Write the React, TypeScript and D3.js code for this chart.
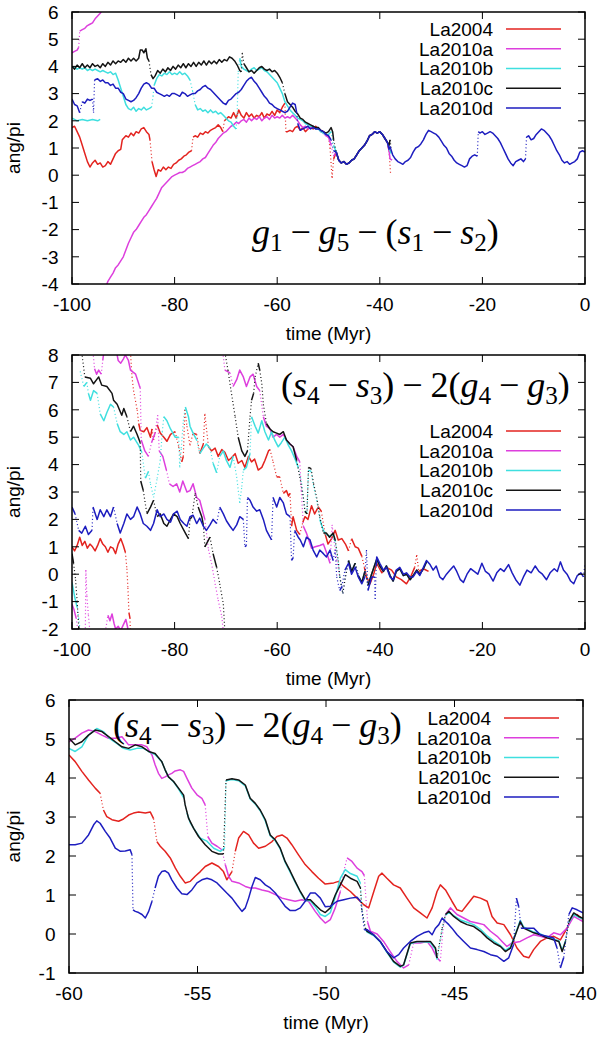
import * as d3 from "d3";

type Pt = [number, number | null];

const SERIES = ["La2004", "La2010a", "La2010b", "La2010c", "La2010d"];
const COLORS = ["#e3231f", "#dd3fdd", "#3fdfdf", "#141414", "#1d1dbf"];

// panel 1 : g1 - g5 - (s1 - s2), -100..0 Myr
const p1Mid: Pt[] = [[-48.5,0.85],[-48,0.55],[-47.5,0.45],[-47,0.5],[-46.5,0.4],[-46,0.45],[-45.5,0.55],[-45,0.6],[-44.5,0.75],[-44,0.9],[-43.5,1.0],[-43,1.1],[-42.5,1.25],[-42,1.45],[-41.5,1.5],[-41,1.6],[-40.5,1.55],[-40,1.6],[-39.5,1.5],[-39,1.35],[-38.5,1.2]];
const p1Recent: Pt[] = [[-38.2,0.95],[-38,1.05],[-37.5,0.75],[-37,0.6],[-36.5,0.5],[-36,0.45],[-35.5,0.4],[-35,0.5],[-34.5,0.55],[-34,0.65],[-33.5,0.85],[-33,1.0],[-32.5,1.05],[-32,1.15],[-31.5,1.3],[-31,1.5],[-30.5,1.65],[-30,1.6],[-29.5,1.55],[-29,1.5],[-28.5,1.4],[-28,1.25],[-27.5,1.1],[-27,1.0],[-26.5,0.8],[-26,0.7],[-25.5,0.55],[-25,0.45],[-24.5,0.4],[-24,0.35],[-23.5,0.3],[-23,0.35],[-22.5,0.6],[-22,0.7],[-21.5,0.75],[-21,0.7],[-20.8,1.6],[-20.5,1.55],[-20,1.6],[-19.5,1.5],[-19,1.55],[-18.5,1.6],[-18,1.55],[-17.5,1.45],[-17,1.35],[-16.5,1.2],[-16,1.0],[-15.5,0.8],[-15,0.6],[-14.5,0.45],[-14,0.35],[-13.5,0.5],[-13,0.55],[-12.5,0.6],[-12,0.5],[-11.6,0.6],[-11.4,1.4],[-11,1.45],[-10.5,1.3],[-10,1.35],[-9.5,1.5],[-9,1.6],[-8.5,1.7],[-8,1.65],[-7.5,1.55],[-7,1.45],[-6.5,1.3],[-6,1.1],[-5.5,0.9],[-5,0.75],[-4.5,0.55],[-4,0.45],[-3.5,0.5],[-3,0.4],[-2.5,0.45],[-2,0.5],[-1.5,0.6],[-1,0.85],[-0.5,0.9],[0,0.85]];
const p1La2004: Pt[] = [[-100,1.75],[-99.5,1.8],[-99,1.6],[-98.5,1.4],[-98,1.1],[-97.5,0.8],[-97,0.5],[-96.5,0.3],[-96,0.45],[-95.5,0.55],[-95,0.4],[-94.5,0.45],[-94,0.3],[-93.5,0.35],[-93,0.5],[-92.5,0.4],[-92,0.6],[-91.5,0.8],[-91,0.9],[-90.5,0.95],[-90.2,1.3],[-89.5,1.45],[-89,1.4],[-88.5,1.55],[-88,1.45],[-87.5,1.6],[-87,1.55],[-86.5,1.7],[-86,1.75],[-85.5,1.6],[-85,1.5],[-84.8,1.3],[-84.4,0.5],[-84,0.2],[-83.6,-0.05],[-83.2,0.2],[-82.7,0.15],[-82.2,0.3],[-81.7,0.2],[-81.2,0.3],[-80.7,0.25],[-80.2,0.4],[-79.7,0.45],[-79.2,0.55],[-78.7,0.6],[-78.2,0.7],[-77.7,0.75],[-77.2,0.85],[-76.7,0.9],[-76.4,1.4],[-76,1.45],[-75.5,1.4],[-75,1.55],[-74.5,1.5],[-74,1.6],[-73.5,1.55],[-73,1.65],[-72.5,1.7],[-72,1.75],[-71.5,1.85],[-71,1.75],[-70.6,1.6],[-70.3,2.0],[-70,2.05],[-69.5,2.15],[-69,2.1],[-68.5,2.3],[-68,2.1],[-67.5,2.4],[-67,2.2],[-66.5,2.1],[-66,2.3],[-65.5,2.15],[-65,2.25],[-64.5,2.1],[-64,2.2],[-63.5,2.15],[-63,2.3],[-62.5,2.1],[-62,2.25],[-61.5,2.2],[-61,2.35],[-60.5,2.2],[-60,2.4],[-59.5,2.3],[-59,2.5],[-58.5,2.65],[-58.3,1.6],[-58,1.6],[-57.5,1.65],[-57,1.6],[-56.5,1.75],[-56,1.8],[-55.5,1.65],[-55,1.75],[-54.5,1.6],[-54,1.7],[-53.5,1.75],[-53,1.7],[-52.5,1.8],[-52,1.7],[-51.5,1.65],[-51,1.6],[-50.5,1.5],[-50,1.4],[-49.7,1.0],[-49.3,-0.1],[-49,0.6],...p1Mid,[-38.2,0.9],[-37.9,0.05]];
const p1La2010a: Pt[] = [[-100,4.5],[-99.5,4.55],[-99,4.6],[-98.7,4.7],[-98.5,5.3],[-98,5.35],[-97.5,5.4],[-97,5.5],[-96.5,5.55],[-96,5.6],[-95.5,5.75],[-95,5.85],[-94.5,5.95],[-94,6.1],[-93.7,6.3],[-93.7,null],[-93.6,-4.2],[-93,-3.9],[-92.5,-3.75],[-92,-3.6],[-91.5,-3.4],[-91,-3.3],[-90.5,-3.15],[-90,-3.0],[-89.5,-2.75],[-89,-2.5],[-88.5,-2.3],[-88,-2.1],[-87.5,-2.0],[-87,-1.85],[-86.5,-1.7],[-86,-1.55],[-85.5,-1.45],[-85,-1.3],[-84.5,-1.15],[-84,-1.0],[-83.5,-0.85],[-83,-0.65],[-82.5,-0.45],[-82,-0.35],[-81.5,-0.25],[-81,-0.15],[-80.5,-0.05],[-80,0.0],[-79.5,0.05],[-79,0.1],[-78.5,0.1],[-78,0.15],[-77.5,0.25],[-77,0.3],[-76.5,0.35],[-76,0.4],[-75.5,0.45],[-75,0.5],[-74.5,0.6],[-74,0.65],[-73.5,0.8],[-73,0.95],[-72.5,1.1],[-72,1.2],[-71.5,1.35],[-71,1.45],[-70.5,1.55],[-70,1.6],[-69.5,1.7],[-69,1.8],[-68.5,1.85],[-68,1.95],[-67.5,1.9],[-67,2.0],[-66.5,2.05],[-66,1.95],[-65.5,2.1],[-65,2.0],[-64.5,2.1],[-64,2.05],[-63.5,2.15],[-63,2.0],[-62.5,2.1],[-62,2.15],[-61.5,2.05],[-61,2.2],[-60.5,2.1],[-60,2.15],[-59.5,2.1],[-59,2.2],[-58.5,2.1],[-58,2.15],[-57.5,2.1],[-57,2.2],[-56.5,2.1],[-56,2.0],[-55.5,1.85],[-55,1.75],[-54.5,1.8],[-54,1.7],[-53.5,1.75],[-53,1.8],[-52.5,1.7],[-52,1.75],[-51.5,1.6],[-51,1.55],[-50.5,1.45],[-50,1.4],[-49.5,1.1],[-49,0.7],...p1Mid,[-38.2,0.9],[-38,0.6],[-37.6,0.55]];
const p1La2010b: Pt[] = [[-100,2.1],[-99.5,2.05],[-99,2.0],[-98,2.05],[-97,2.0],[-96,2.05],[-95,2.0],[-94.5,2.05],[-94.5,null],[-100,4.0],[-99.5,3.95],[-99,3.9],[-98.5,3.95],[-98,3.9],[-97.5,3.95],[-97,3.85],[-96.5,3.9],[-96,3.85],[-95.5,3.9],[-95,3.85],[-94.5,3.8],[-94,3.85],[-93.5,3.8],[-93,3.75],[-92.5,3.8],[-92,3.7],[-91.5,3.75],[-91,3.5],[-90.5,3.2],[-90,2.9],[-89.5,2.6],[-89,2.45],[-88.5,2.4],[-88,2.5],[-87.5,2.35],[-87,2.45],[-86.5,2.4],[-86,2.5],[-85.5,2.4],[-85,2.45],[-84.5,2.5],[-84.2,2.9],[-84,3.3],[-83.5,3.55],[-83,3.7],[-82.5,3.65],[-82,3.75],[-81.5,3.7],[-81,3.8],[-80.5,3.7],[-80,3.75],[-79.5,3.7],[-79,3.8],[-78.5,3.7],[-78,3.75],[-77.5,3.65],[-77,3.5],[-76.5,3.1],[-76,2.6],[-75.5,2.4],[-75,2.45],[-74.5,2.35],[-74,2.4],[-73.5,2.3],[-73,2.4],[-72.5,2.3],[-72,2.35],[-71.5,2.25],[-71,2.3],[-70.5,2.2],[-70,2.1],[-69.5,2.0],[-69,1.95],[-68.5,1.8],[-68,1.7],[-67.8,2.3],[-67.6,3.8],[-67.3,4.3],[-67,4.0],[-66.5,3.9],[-66,3.85],[-65.5,3.8],[-65,3.9],[-64.5,3.95],[-64,3.85],[-63.5,3.9],[-63,3.95],[-62.5,3.85],[-62,3.8],[-61.5,3.7],[-61,3.6],[-60.5,3.5],[-60,3.4],[-59.5,3.2],[-59,3.0],[-58.5,2.7],[-58,2.55],[-57.5,2.4],[-57,2.3],[-56.5,2.2],[-56,2.1],[-55.5,2.05],[-55,2.0],[-54.5,1.9],[-54,1.85],[-53.5,1.8],[-53,1.8],[-52.5,1.7],[-52,1.7],[-51.5,1.6],[-51,1.55],[-50.5,1.5],[-50,1.5],[-49.5,1.6],[-49,1.1],...p1Mid,[-38.2,1.0],[-37.8,0.8]];
const p1La2010c: Pt[] = [[-100,4.0],[-99.5,3.9],[-99,4.05],[-98.5,3.95],[-98,4.1],[-97.5,3.95],[-97,4.05],[-96.5,3.95],[-96,4.1],[-95.5,4.0],[-95,4.05],[-94.5,3.95],[-94,4.1],[-93.5,4.0],[-93,4.15],[-92.5,4.05],[-92,4.2],[-91.5,4.1],[-91,4.2],[-90.5,4.15],[-90,4.25],[-89.5,4.15],[-89,4.3],[-88.5,4.2],[-88,4.3],[-87.5,4.2],[-87,4.3],[-86.7,4.6],[-86.3,4.6],[-86,4.5],[-85.6,4.65],[-85.3,4.3],[-85,4.2],[-84.6,3.7],[-84.2,3.55],[-83.8,3.65],[-83.3,3.85],[-82.8,3.75],[-82.3,3.9],[-81.8,3.8],[-81.3,3.95],[-80.8,3.85],[-80.3,4.0],[-79.8,3.9],[-79.3,4.05],[-78.8,3.95],[-78.3,4.1],[-77.8,3.95],[-77.3,4.1],[-76.8,4.0],[-76.3,4.15],[-75.8,4.0],[-75.3,4.15],[-74.8,4.05],[-74.3,4.2],[-73.8,4.05],[-73.3,4.2],[-72.8,4.1],[-72.3,4.2],[-71.8,4.1],[-71.3,4.25],[-70.8,4.15],[-70.3,4.25],[-69.8,4.2],[-69.3,4.35],[-68.8,4.3],[-68.3,4.2],[-67.8,4.05],[-67.3,3.85],[-67,3.8],[-66.8,4.5],[-66.5,4.1],[-66,3.95],[-65.5,3.8],[-65,3.85],[-64.5,3.75],[-64,3.85],[-63.5,3.95],[-63,4.0],[-62.5,3.9],[-62,3.85],[-61.5,3.9],[-61,3.8],[-60.5,3.85],[-60,3.75],[-59.5,3.6],[-59,3.4],[-58.5,3.0],[-58,2.7],[-57.5,2.6],[-57,2.5],[-56.5,2.35],[-56,2.25],[-55.5,2.1],[-55,2.05],[-54.5,1.95],[-54,1.9],[-53.5,1.85],[-53,1.8],[-52.5,1.75],[-52,1.75],[-51.5,1.65],[-51,1.6],[-50.5,1.55],[-50,1.6],[-49.5,1.75],[-49.2,1.6],[-49,1.3],...p1Mid,[-38.2,1.1],[-38,1.3],[-37.7,0.8]];
const p1La2010d: Pt[] = [[-100,2.8],[-99.5,2.6],[-99,2.55],[-98.5,2.3],[-98,2.7],[-97.5,2.65],[-97,2.8],[-96.5,2.75],[-96,2.8],[-95.8,2.3],[-95.6,3.5],[-95,3.55],[-94.5,3.45],[-94,3.5],[-93.5,3.4],[-93,3.4],[-92.5,3.3],[-92,3.35],[-91.5,3.2],[-91,3.2],[-90.5,3.05],[-90,3.0],[-89.5,2.8],[-89,2.75],[-88.5,2.7],[-88,2.75],[-87.5,2.85],[-87,3.0],[-86.5,3.2],[-86,3.35],[-85.5,3.4],[-85,3.35],[-84.5,3.2],[-84,3.2],[-83.5,3.05],[-83,3.0],[-82.5,2.95],[-82,2.9],[-81.5,2.95],[-81,2.9],[-80.5,3.0],[-80,3.0],[-79.5,2.95],[-79,2.9],[-78.5,3.05],[-78,3.0],[-77.5,2.9],[-77,2.95],[-76.5,3.0],[-76,3.0],[-75.5,3.1],[-75,3.15],[-74.5,3.25],[-74,3.3],[-73.5,3.2],[-73,3.15],[-72.5,3.05],[-72,2.95],[-71.5,2.85],[-71,2.75],[-70.5,2.65],[-70,2.6],[-69.5,2.75],[-69,2.8],[-68.5,2.9],[-68,3.0],[-67.5,3.05],[-67,3.15],[-66.5,3.3],[-66,3.45],[-65.5,3.55],[-65,3.6],[-64.5,3.45],[-64,3.35],[-63.5,3.2],[-63,3.05],[-62.5,2.9],[-62,2.8],[-61.5,2.65],[-61,2.6],[-60.5,2.5],[-60,2.45],[-59.5,2.4],[-59,2.35],[-58.5,2.3],[-58,2.35],[-57.5,2.5],[-57,2.65],[-56.5,2.6],[-56.2,2.3],[-56,1.9],[-55.5,1.65],[-55,1.7],[-54.5,1.75],[-54,1.8],[-53.5,1.7],[-53,1.75],[-52.5,1.7],[-52,1.7],[-51.5,1.65],[-51,1.6],[-50.5,1.5],[-50,1.45],[-49.5,1.3],[-49,0.9],...p1Mid,...p1Recent];

// panel 2 : (s4 - s3) - 2(g4 - g3), -100..0 Myr
const p2Mix: Pt[] = [[-47.8,-0.1],[-47.2,-0.7],[-46.8,-0.2],[-46.1,0.5],[-45.5,0.1],[-44.8,0.4],[-44.2,-0.05],[-43.5,-0.3],[-42.9,0.1],[-42.3,-0.4],[-41.6,0.0],[-40.6,0.55],[-40,0.3],[-39.3,0.1],[-38.7,0.3],[-38,-0.05],[-37.4,-0.25],[-36.8,0.1],[-36.1,0.2],[-35.4,-0.05],[-34.8,0.0],[-34.1,-0.2],[-33.5,-0.05],[-32.8,0.15],[-32.2,0.0],[-31.5,0.2],[-30.9,0.45]];
const p2La2004: Pt[] = [[-100,1.0],[-99.5,0.85],[-99,1.05],[-98.5,1.35],[-98,1.05],[-97.5,1.2],[-97,0.95],[-96.5,1.1],[-96,1.0],[-95.5,0.85],[-95,1.05],[-94.5,1.3],[-94,1.1],[-93.5,1.0],[-93,0.8],[-92.5,1.0],[-92,0.95],[-91.5,0.75],[-91,1.1],[-90.5,1.3],[-90,1.05],[-89.6,0.8],[-89.3,0.2],[-89.1,-0.5],[-88.9,-1.4],[-88.7,-1.6],[-88.6,-2.2],[-88.6,null],[-88.6,8.1],[-88.3,7.2],[-88,6.7],[-87.3,6.0],[-87,5.5],[-86.7,5.25],[-86,5.2],[-85.4,5.35],[-84.7,5.0],[-84.4,5.3],[-84.1,4.9],[-83.4,5.45],[-82.8,5.15],[-82.1,5.0],[-81.5,4.85],[-80.8,5.1],[-79.9,5.2],[-79.2,4.65],[-78.6,4.1],[-78.3,4.3],[-78,6.0],[-77.6,5.4],[-77,4.7],[-76.4,5.15],[-75.7,5.1],[-75.1,4.4],[-74.4,4.75],[-74.1,5.85],[-73.4,4.65],[-72.8,4.5],[-72.1,4.6],[-71.5,4.3],[-70.8,4.55],[-70.2,4.45],[-69.5,4.15],[-68.9,4.25],[-68.2,4.4],[-67.6,4.05],[-66.9,4.15],[-66.3,3.9],[-65.6,4.3],[-65,4.1],[-64.4,4.2],[-63.7,3.8],[-63,3.9],[-62.4,4.15],[-61.7,4.5],[-61.4,4.55],[-60.8,4.1],[-60.1,3.55],[-59.5,3.55],[-58.8,2.95],[-58.2,3.05],[-57.8,2.85],[-57.5,2.95],[-57.2,1.75],[-56.9,2.1],[-56.2,1.6],[-55.6,1.45],[-55,1.9],[-54.6,2.1],[-54,2.0],[-53.3,2.5],[-52.7,2.2],[-52,2.45],[-51.4,2.3],[-50.7,1.5],[-50.1,1.1],[-49.4,1.3],[-48.7,1.6],[-48.1,1.25],[-47.4,1.3],[-46.7,1.1],[-46.1,0.85],[-45.5,1.3],[-44.8,1.0],[-44.2,0.95],[-43.5,0.65],[-43,0.25],[-42.6,-0.1],[-41.9,-0.35],[-41.2,0.0],[-40.6,0.4],[-39.6,0.05],[-38.7,0.25],[-37.7,0.15],[-36.8,-0.1],[-35.8,-0.2],[-34.8,-0.35],[-34,-0.1],[-33.2,0.25],[-32.8,0.7],[-32.4,0.1],[-31.5,0.2],[-30.5,0.1]];
const p2La2010a: Pt[] = [[-100,-1.1],[-99.6,-1.3],[-99.2,-1.6],[-98.8,-2.1],[-98.8,null],[-97.4,-2.1],[-97.3,0.15],[-97.1,-0.8],[-96.8,-1.5],[-96.5,-2.1],[-96.5,null],[-93.5,-2.1],[-93,-1.5],[-92.6,-1.7],[-92.2,-1.45],[-91.8,-1.8],[-91.5,-2.0],[-91,-1.9],[-90.5,-2.05],[-90,-1.85],[-89.5,-1.65],[-89.2,-1.9],[-89,-2.1],[-89,null],[-95.9,8.1],[-95.6,7.5],[-95.2,7.3],[-94.8,7.45],[-94.3,7.3],[-94,7.8],[-93.8,8.1],[-93.8,null],[-91.3,8.1],[-91,7.8],[-90.5,7.7],[-90,7.85],[-89.6,8.0],[-89,7.8],[-88.6,7.45],[-87.6,7.3],[-86.9,6.9],[-86.7,6.8],[-86.5,4.9],[-85.8,4.5],[-85.1,4.3],[-84.5,4.8],[-83.8,5.15],[-83.3,5.8],[-83,4.5],[-82.3,4.3],[-81.6,3.8],[-81,3.3],[-80.3,3.2],[-79.6,3.3],[-79,3.0],[-78.4,3.4],[-77.6,3.0],[-77,3.05],[-76.4,3.3],[-75.7,2.8],[-75.1,2.7],[-74.4,2.2],[-74.1,2.0],[-73.4,0.9],[-72.8,0.4],[-72.1,-0.35],[-71.5,-0.95],[-70.8,-1.55],[-70.5,-2.1],[-70.5,null],[-70.6,8.1],[-70.2,7.45],[-69.2,7.35],[-68.6,6.85],[-67.9,7.1],[-67.3,7.45],[-66.6,7.2],[-66,6.85],[-65.3,7.2],[-64.7,7.3],[-64,6.85],[-63.4,6.7],[-62.7,5.75],[-62.1,5.4],[-61.4,5.3],[-60.8,5.0],[-60.1,5.1],[-59.5,5.0],[-58.8,5.1],[-58.2,4.9],[-57.5,4.75],[-56.9,4.65],[-56.2,4.3],[-55.6,4.1],[-55.3,3.05],[-54.9,1.75],[-54.3,1.5],[-53.3,0.95],[-52.6,1.0],[-51.7,1.05],[-51,1.1],[-50.3,0.75],[-49.7,0.4],[-49.3,1.8],[-49,1.3],[-48.4,0.5],...p2Mix];
const p2La2010b: Pt[] = [[-100,-0.3],[-99.7,-0.6],[-99.4,-0.9],[-99,-1.2],[-98.7,-1.6],[-98.4,-2.1],[-98.4,null],[-98.4,7.4],[-97.7,6.85],[-97.1,7.0],[-96.8,6.6],[-96.4,6.35],[-95.8,6.7],[-95.1,6.6],[-94.5,5.85],[-93.8,5.6],[-93.2,5.9],[-92.5,6.2],[-91.9,6.1],[-91.2,5.5],[-90.6,5.2],[-89.9,5.1],[-89.3,5.2],[-88.6,4.9],[-88,5.0],[-87,4.7],[-86.4,4.45],[-85.7,3.5],[-85.1,3.75],[-84.7,3.3],[-84.1,2.8],[-83.4,3.5],[-82.8,4.15],[-82.4,5.2],[-82.1,5.75],[-81.5,5.6],[-80.8,5.3],[-79.9,5.0],[-79.2,5.0],[-79,3.9],[-78.7,4.6],[-78.3,5.6],[-77.9,6.1],[-77.3,5.75],[-77,5.4],[-76.4,5.15],[-75.7,4.9],[-75.1,4.4],[-74.4,4.6],[-73.8,4.75],[-73.1,4.6],[-72.5,4.05],[-71.8,3.7],[-71.2,4.3],[-70.5,4.5],[-69.9,4.15],[-69.2,3.9],[-68.6,4.3],[-67.9,3.55],[-67.3,2.6],[-66.9,3.2],[-66.6,3.8],[-66,3.9],[-65.3,4.4],[-65,5.75],[-64.3,5.4],[-63.7,5.15],[-63,5.6],[-62.4,5.2],[-61.7,4.9],[-61.1,5.2],[-60.5,4.9],[-59.8,4.65],[-59.2,4.8],[-58.5,5.0],[-57.8,4.7],[-57.2,4.5],[-56.5,4.2],[-55.9,3.9],[-55.2,3.3],[-54.9,2.8],[-54.6,2.3],[-54.2,2.25],[-53.9,3.8],[-53.4,3.75],[-52.9,3.2],[-52.3,2.7],[-51.7,2.0],[-51,1.6],[-50.4,1.45],[-49.8,1.4],[-49.1,1.45],[-48.7,1.2],[-48.1,0.45],...p2Mix];
const p2La2010c: Pt[] = [[-100,0.75],[-99.7,0.4],[-99.3,-0.2],[-99,-1.0],[-98.7,-1.9],[-98.6,-2.1],[-98.6,null],[-98.1,8.1],[-97.5,7.2],[-96.4,7.15],[-95.8,6.95],[-94.8,7.2],[-94.2,6.9],[-93.2,6.85],[-92.2,6.6],[-91.9,6.35],[-91.2,6.2],[-90.3,5.8],[-89.9,6.05],[-89.3,5.75],[-88.6,5.2],[-88,5.4],[-87.3,5.1],[-86.7,4.8],[-86.6,3.4],[-86.1,3.05],[-85.4,2.2],[-84.7,2.45],[-84.1,2.7],[-83.4,2.1],[-82.8,2.2],[-82.1,1.85],[-81.5,1.75],[-80.8,2.0],[-80.2,2.2],[-79.5,2.1],[-78.9,1.85],[-77.9,1.5],[-77.3,1.3],[-77,2.0],[-76.6,2.1],[-76,2.95],[-75.4,2.45],[-74.7,2.1],[-74.4,1.8],[-74.1,1.0],[-73.1,1.35],[-72.5,0.75],[-71.8,0.25],[-71.2,-0.35],[-70.5,-1.1],[-70.2,-2.1],[-70.2,null],[-70.2,8.1],[-69.6,7.45],[-69,6.7],[-68.2,5.75],[-67.6,5.0],[-66.9,4.5],[-66.3,4.3],[-65.8,4.5],[-65.3,5.75],[-65,6.35],[-64.6,6.6],[-64.3,7.2],[-63.7,7.7],[-63.4,7.45],[-63,6.95],[-62.7,6.2],[-62.1,5.5],[-61.4,5.3],[-60.8,5.2],[-60.1,5.15],[-59.5,5.1],[-58.8,5.2],[-58.2,4.9],[-57.5,4.75],[-56.9,4.65],[-56.2,4.15],[-55.6,3.55],[-54.9,2.8],[-54.6,2.3],[-54.2,2.2],[-53.9,3.9],[-53.4,3.85],[-52.9,3.3],[-52.3,2.8],[-51.7,2.1],[-51,1.5],[-50.4,1.5],[-49.8,1.35],[-49.1,1.5],[-48.7,1.25],[-48.1,0.5],...p2Mix];
const p2La2010d: Pt[] = [[-100,2.45],[-99.4,2.2],[-98.7,1.6],[-98.1,1.5],[-97.4,1.75],[-96.8,1.45],[-96.1,1.6],[-95.9,2.45],[-95.1,2.0],[-94.5,2.35],[-93.8,2.1],[-93.2,2.35],[-92.5,2.1],[-91.9,2.45],[-91.2,1.85],[-90.6,1.5],[-89.9,1.85],[-89.3,2.2],[-88.6,2.0],[-88,2.1],[-87.3,2.45],[-86.7,2.2],[-86.1,1.85],[-85.4,1.75],[-84.7,1.6],[-84.1,1.85],[-83.4,2.35],[-82.8,2.1],[-82.1,2.2],[-81.5,2.0],[-80.8,1.9],[-80.2,2.2],[-79.5,2.3],[-78.9,2.0],[-78.2,1.85],[-77.6,1.75],[-77,2.1],[-76.4,2.15],[-75.7,1.85],[-75.1,2.05],[-74.4,1.75],[-73.8,1.6],[-73.1,1.8],[-72.5,2.0],[-71.8,1.85],[-71.2,2.45],[-70.5,2.2],[-69.9,1.95],[-69.2,1.75],[-68.6,1.6],[-67.9,1.8],[-67.3,2.1],[-66.6,2.0],[-66.3,1.0],[-66,1.05],[-65.8,2.8],[-65.3,2.7],[-64.7,2.45],[-64,2.3],[-63.4,2.35],[-62.7,2.0],[-62.1,1.6],[-61.4,1.35],[-61.1,1.25],[-60.8,2.8],[-60.1,2.45],[-59.5,2.8],[-58.8,2.6],[-58.2,2.2],[-57.5,2.1],[-57.2,0.5],[-56.9,0.6],[-56.6,1.6],[-55.9,1.35],[-55.5,1.25],[-54.9,1.0],[-54.3,1.35],[-53.6,1.25],[-53,0.88],[-52.3,0.63],[-51.7,0.88],[-51,0.75],[-50.4,0.63],[-49.7,0.88],[-49.1,0.5],[-48.7,0.88],[-48.4,-0.1],[-47.8,-0.6],[-47.4,-0.45],[-46.8,0.15],[-46.1,0.4],[-45.5,0.0],[-44.8,0.25],[-44.2,-0.1],[-43.5,-0.35],[-42.9,-0.1],[-42.6,0.88],[-42.3,-0.6],[-41.6,-0.1],[-41,-0.1],[-40.9,-0.9],[-40.7,0.3],[-40.6,0.63],[-40,0.4],[-39.3,0.15],[-38.7,0.25],[-38,-0.1],[-37.4,-0.2],[-36.8,0.15],[-36.1,0.25],[-35.4,0.0],[-34.8,0.05],[-34.1,-0.1],[-33.5,-0.1],[-32.8,0.1],[-32.2,-0.05],[-31.5,0.25],[-30.9,0.5],[-30.2,0.35],[-29.6,0.15],[-29,0.3],[-28.3,-0.1],[-27.7,-0.2],[-27,0.0],[-26.3,0.15],[-25.6,0.3],[-25,0.1],[-24.3,-0.2],[-23.7,-0.3],[-23,0.0],[-22.3,0.2],[-21.6,0.1],[-20.9,0.0],[-20.1,0.4],[-19.4,0.1],[-18.7,0.0],[-17.9,-0.25],[-17.2,0.05],[-16.5,0.2],[-15.8,0.1],[-14.9,0.35],[-14.2,0.05],[-13.5,-0.2],[-12.7,-0.4],[-12,-0.1],[-11.3,0.15],[-10.5,0.05],[-9.7,0.3],[-9,0.1],[-8.3,0.0],[-7.5,-0.2],[-6.8,0.05],[-6,0.2],[-5.4,0.1],[-4.8,0.45],[-4.2,0.15],[-3.5,0.0],[-2.8,-0.25],[-2.2,-0.35],[-1.5,-0.05],[-0.8,0.05],[-0.3,-0.1],[0,0.4]];

// panel 3 : same angle, -60..-40 Myr
const p3La2004: Pt[] = [[-60,4.59],[-59.76,4.42],[-59.5,4.17],[-59.24,3.95],[-58.98,3.74],[-58.79,3.61],[-58.66,3.18],[-58.53,3.01],[-58.33,2.93],[-58.07,2.89],[-57.88,2.95],[-57.68,3.05],[-57.49,3.1],[-57.29,3.13],[-57.03,3.1],[-56.84,3.13],[-56.71,2.96],[-56.58,2.37],[-56.45,2.25],[-56.26,2.12],[-56.06,1.95],[-55.86,1.69],[-55.67,1.48],[-55.48,1.31],[-55.28,1.35],[-55.09,1.48],[-54.89,1.6],[-54.7,1.73],[-54.44,1.82],[-54.18,1.73],[-53.99,1.6],[-53.86,1.39],[-53.66,1.6],[-53.53,2.12],[-53.4,2.46],[-53.21,2.63],[-53.01,2.54],[-52.82,2.33],[-52.62,2.2],[-52.36,2.25],[-52.1,2.37],[-51.91,2.5],[-51.71,2.54],[-51.52,2.46],[-51.33,2.29],[-51.07,2.03],[-50.81,1.78],[-50.55,1.6],[-50.29,1.43],[-50.03,1.28],[-49.7,1.31],[-49.51,1.35],[-49.31,1.22],[-49.05,1.09],[-48.79,0.92],[-48.53,0.75],[-48.34,0.67],[-48.14,1.09],[-47.95,1.48],[-47.82,1.56],[-47.63,1.43],[-47.37,1.26],[-47.11,1.18],[-46.85,0.92],[-46.59,0.67],[-46.33,0.54],[-46.07,0.41],[-45.87,0.67],[-45.68,1.09],[-45.55,1.26],[-45.35,1.13],[-45.1,0.84],[-44.9,0.62],[-44.71,0.58],[-44.51,0.75],[-44.25,0.97],[-43.99,0.92],[-43.73,0.84],[-43.54,0.45],[-43.34,0.28],[-43.08,0.24],[-42.82,-0.02],[-42.57,-0.36],[-42.31,-0.57],[-42.11,-0.61],[-41.92,-0.4],[-41.66,-0.19],[-41.4,-0.1],[-41.14,-0.06],[-40.88,-0.15],[-40.62,0.15],[-40.42,0.45],[-40.23,0.5],[-40,0.37]];
const p3La2010a: Pt[] = [[-60,4.93],[-59.76,5.02],[-59.5,5.15],[-59.24,5.23],[-58.98,5.19],[-58.72,5.1],[-58.46,5.02],[-58.2,5.02],[-57.94,5.06],[-57.68,4.85],[-57.42,4.85],[-57.16,4.85],[-56.97,4.8],[-56.77,4.59],[-56.65,4.34],[-56.52,4.12],[-56.39,3.99],[-56.26,4.03],[-56.13,4.08],[-56,4.12],[-55.87,4.18],[-55.67,4.21],[-55.54,4.17],[-55.41,3.99],[-55.22,3.74],[-55.02,3.57],[-54.83,3.48],[-54.7,3.31],[-54.6,2.5],[-54.44,2.33],[-54.24,2.25],[-54.05,2.16],[-53.92,1.78],[-53.79,1.48],[-53.66,1.35],[-53.4,1.31],[-53.14,1.22],[-52.95,1.18],[-52.75,1.18],[-52.49,1.13],[-52.23,1.09],[-51.97,1.01],[-51.71,0.92],[-51.46,0.88],[-51.2,0.84],[-50.94,0.88],[-50.68,0.84],[-50.42,0.58],[-50.22,0.41],[-50.03,0.28],[-49.83,0.37],[-49.64,0.67],[-49.44,1.09],[-49.31,1.6],[-49.18,1.95],[-48.99,1.86],[-48.79,1.69],[-48.6,1.6],[-48.51,1.5],[-48.38,0.3],[-48.27,0.07],[-48.01,0.0],[-47.76,-0.19],[-47.5,-0.45],[-47.24,-0.7],[-46.98,-0.87],[-46.78,-0.79],[-46.59,-0.23],[-46.33,-0.23],[-46.07,-0.19],[-45.87,-0.36],[-45.68,-0.61],[-45.55,-0.7],[-45.45,0.1],[-45.35,0.5],[-45.16,0.67],[-44.9,0.5],[-44.64,0.41],[-44.38,0.32],[-44.12,0.28],[-43.86,0.24],[-43.6,0.07],[-43.34,-0.06],[-43.15,-0.19],[-42.96,-0.32],[-42.76,-0.23],[-42.44,-0.19],[-42.18,-0.1],[-41.92,-0.02],[-41.66,-0.06],[-41.4,-0.1],[-41.14,0.03],[-40.88,-0.02],[-40.62,0.15],[-40.36,0.45],[-40,0.32]];
const p3La2010b: Pt[] = [[-60,4.76],[-59.76,4.68],[-59.5,4.8],[-59.24,5.1],[-58.92,5.27],[-58.66,5.19],[-58.4,5.0],[-58.13,4.88],[-57.88,4.76],[-57.62,4.72],[-57.36,4.76],[-57.1,4.76],[-56.9,4.68],[-56.65,4.6],[-56.39,4.42],[-56.26,4.21],[-56.13,4.03],[-55.93,3.9],[-55.74,3.72],[-55.54,3.5],[-55.41,3.1],[-55.28,2.85],[-55.09,2.65],[-54.89,2.46],[-54.63,2.38],[-54.37,2.2],[-54.11,2.12],[-53.95,2.2],[-53.89,3.93],[-53.66,3.96],[-53.4,3.93],[-53.14,3.8],[-52.95,3.46],[-52.75,3.33],[-52.56,3.16],[-52.36,2.9],[-52.17,2.52],[-51.97,2.39],[-51.78,2.18],[-51.59,1.84],[-51.39,1.58],[-51.2,1.33],[-51,1.07],[-50.81,0.86],[-50.61,0.85],[-50.42,0.7],[-50.22,0.5],[-50.03,0.45],[-49.83,0.55],[-49.64,0.95],[-49.44,1.43],[-49.25,1.65],[-49.05,1.55],[-48.79,1.48],[-48.66,1.3],[-48.6,0.6],[-48.47,0.13],[-48.4,0.05],[-48.15,-0.04],[-47.89,-0.2],[-47.63,-0.47],[-47.37,-0.72],[-47.11,-0.85],[-46.98,-0.8],[-46.72,-0.25],[-46.46,-0.2],[-46.2,-0.2],[-45.94,-0.22],[-45.74,-0.4],[-45.68,-0.65],[-45.48,0.12],[-45.35,0.48],[-45.22,0.56],[-45.03,0.47],[-44.77,0.36],[-44.51,0.3],[-44.25,0.24],[-43.99,0.12],[-43.73,-0.05],[-43.47,-0.18],[-43.21,-0.3],[-43.02,-0.42],[-42.82,-0.33],[-42.63,0.0],[-42.44,0.35],[-42.31,0.18],[-41.92,0.05],[-41.66,0.0],[-41.4,-0.08],[-40.94,-0.17],[-40.81,-0.42],[-40.68,-0.17],[-40.55,0.3],[-40.36,0.5],[-40.16,0.43],[-40,0.38]];
const p3La2010c: Pt[] = [[-60,5.02],[-59.76,4.85],[-59.5,4.93],[-59.24,5.1],[-58.98,5.23],[-58.72,5.19],[-58.46,5.06],[-58.2,4.93],[-57.94,4.8],[-57.68,4.76],[-57.42,4.85],[-57.16,4.8],[-56.9,4.68],[-56.65,4.63],[-56.39,4.42],[-56.26,4.21],[-56.13,4.03],[-55.93,3.91],[-55.74,3.74],[-55.54,3.56],[-55.48,3.31],[-55.35,2.97],[-55.15,2.71],[-54.96,2.5],[-54.7,2.29],[-54.44,2.12],[-54.18,2.05],[-53.99,2.05],[-53.89,3.95],[-53.66,3.98],[-53.4,3.95],[-53.14,3.82],[-52.95,3.48],[-52.75,3.35],[-52.56,3.18],[-52.36,2.93],[-52.17,2.54],[-51.97,2.41],[-51.78,2.2],[-51.59,1.86],[-51.39,1.61],[-51.2,1.35],[-51,1.09],[-50.81,0.88],[-50.61,0.88],[-50.42,0.75],[-50.22,0.62],[-50.03,0.55],[-49.83,0.67],[-49.64,1.0],[-49.44,1.26],[-49.25,1.52],[-49.05,1.43],[-48.79,1.35],[-48.66,1.18],[-48.6,0.6],[-48.47,0.15],[-48.4,0.07],[-48.15,-0.02],[-47.89,-0.19],[-47.63,-0.45],[-47.37,-0.7],[-47.11,-0.83],[-46.98,-0.79],[-46.72,-0.23],[-46.46,-0.19],[-46.2,-0.19],[-45.94,-0.19],[-45.74,-0.36],[-45.68,-0.61],[-45.48,0.15],[-45.35,0.5],[-45.22,0.58],[-45.03,0.45],[-44.77,0.32],[-44.51,0.24],[-44.25,0.19],[-43.99,0.07],[-43.73,-0.1],[-43.47,-0.23],[-43.21,-0.32],[-43.02,-0.45],[-42.82,-0.36],[-42.63,-0.02],[-42.44,0.32],[-42.31,0.15],[-41.92,0.03],[-41.66,-0.02],[-41.4,-0.1],[-40.94,-0.19],[-40.81,-0.45],[-40.68,-0.19],[-40.55,0.32],[-40.36,0.54],[-40.16,0.45],[-40,0.4]];
const p3La2010d: Pt[] = [[-60,2.29],[-59.76,2.29],[-59.5,2.33],[-59.24,2.54],[-59.04,2.8],[-58.92,2.9],[-58.79,2.84],[-58.59,2.63],[-58.4,2.46],[-58.2,2.2],[-58,2.12],[-57.81,2.13],[-57.62,2.16],[-57.55,2.03],[-57.51,0.62],[-57.42,0.58],[-57.29,0.55],[-57.16,0.5],[-57.03,0.41],[-56.9,0.58],[-56.77,0.84],[-56.65,1.18],[-56.52,1.48],[-56.39,1.6],[-56.26,1.62],[-56.13,1.56],[-56,1.39],[-55.8,1.18],[-55.61,1.03],[-55.41,1.01],[-55.22,1.13],[-55.02,1.31],[-54.83,1.39],[-54.63,1.43],[-54.44,1.39],[-54.24,1.31],[-54.05,1.18],[-53.86,1.05],[-53.66,0.92],[-53.47,0.75],[-53.27,0.58],[-53.14,0.67],[-53.01,0.92],[-52.88,1.22],[-52.75,1.45],[-52.56,1.39],[-52.36,1.26],[-52.17,1.18],[-51.97,1.05],[-51.78,0.88],[-51.59,0.71],[-51.39,0.6],[-51.2,0.6],[-51,0.67],[-50.81,0.84],[-50.61,1.05],[-50.42,1.05],[-50.22,0.92],[-50.03,0.7],[-49.83,0.71],[-49.57,0.84],[-49.31,0.88],[-49.05,0.92],[-48.79,0.94],[-48.66,0.84],[-48.6,0.58],[-48.51,0.11],[-48.4,0.11],[-48.15,-0.02],[-47.89,-0.19],[-47.63,-0.45],[-47.37,-0.61],[-47.17,-0.53],[-46.98,-0.36],[-46.72,-0.19],[-46.46,-0.06],[-46.2,0.03],[-46,0.07],[-45.87,-0.02],[-45.74,0.15],[-45.61,0.24],[-45.48,0.41],[-45.35,0.32],[-45.22,0.24],[-45.1,0.15],[-44.9,-0.02],[-44.64,-0.19],[-44.38,-0.36],[-44.12,-0.4],[-43.86,-0.45],[-43.6,-0.53],[-43.34,-0.57],[-43.08,-0.7],[-42.89,-0.61],[-42.7,-0.27],[-42.59,0.92],[-42.5,0.7],[-42.41,0.15],[-42.18,0.15],[-41.92,0.15],[-41.66,-0.02],[-41.4,-0.06],[-41.14,-0.1],[-41.01,-0.36],[-40.88,-0.87],[-40.75,-0.6],[-40.55,0.5],[-40.42,0.67],[-40.23,0.62],[-40,0.54]];

const ticks1X = [-100, -80, -60, -40, -20, 0];
const ticks1Y = [-4, -3, -2, -1, 0, 1, 2, 3, 4, 5, 6];
const ticks2Y = [-2, -1, 0, 1, 2, 3, 4, 5, 6, 7, 8];
const ticks3X = [-60, -55, -50, -45, -40];
const ticks3Y = [-1, 0, 1, 2, 3, 4, 5, 6];

// [text, kind]: i = italic, r = roman, s = subscript, o = operator
const label1: [string, string][] = [["g","i"],["1","s"],["−","o"],["g","i"],["5","s"],["−","o"],["(","r"],["s","i"],["1","s"],["−","o"],["s","i"],["2","s"],[")","r"]];
const label2: [string, string][] = [["(","r"],["s","i"],["4","s"],["−","o"],["s","i"],["3","s"],[")","r"],["−","o"],["2(","r"],["g","i"],["4","s"],["−","o"],["g","i"],["3","s"],[")","r"]];

const SANS = "Liberation Sans";
const SERIF = "Liberation Serif";
const FS = 19;

const panels = [
  {id: "a", left: 72, right: 585, top: 12, bottom: 284, xd: [-100, 0], yd: [-4, 6], xt: ticks1X, yt: ticks1Y,
    data: [p1La2004, p1La2010a, p1La2010b, p1La2010c, p1La2010d], math: label1, mx: 252, my: 244, msize: 36,
    legX: 493, legY: 29},
  {id: "b", left: 72, right: 585, top: 355, bottom: 629, xd: [-100, 0], yd: [-2, 8], xt: ticks1X, yt: ticks2Y,
    data: [p2La2004, p2La2010a, p2La2010b, p2La2010c, p2La2010d], math: label2, mx: 281, my: 397, msize: 36,
    legX: 493, legY: 431},
  {id: "c", left: 69, right: 583, top: 700, bottom: 973, xd: [-60, -40], yd: [-1, 6], xt: ticks3X, yt: ticks3Y,
    data: [p3La2004, p3La2010a, p3La2010b, p3La2010c, p3La2010d], math: label2, mx: 113, my: 737, msize: 36,
    legX: 491, legY: 718},
];

function splitRuns(pts: Pt[], x: any, y: any) {
  const solid: [number, number][][] = [];
  const jumps: [number, number][][] = [];
  let cur: [number, number][] = [];
  for (const [t, v] of pts) {
    if (v === null) { if (cur.length > 1) solid.push(cur); cur = []; continue; }
    const p: [number, number] = [x(t), y(v)];
    if (cur.length) {
      const q = cur[cur.length - 1];
      const dx = Math.abs(p[0] - q[0]), dy = Math.abs(p[1] - q[1]);
      if (dy > 10 && dy > 4 * dx) {
        jumps.push([q, p]);
        if (cur.length > 1) solid.push(cur);
        cur = [p];
        continue;
      }
    }
    cur.push(p);
  }
  if (cur.length > 1) solid.push(cur);
  return {solid, jumps};
}

function MathText({x, y, parts, size}: {x: number; y: number; parts: [string, string][]; size: number}) {
  let shift = 0;
  let pad = 0;
  const sub = size * 0.2;
  return (
    <text x={x} y={y} fontFamily={SERIF} fontSize={size}>
      {parts.map(([s, k], i) => {
        let dy = 0;
        if (k === "s") { dy = sub - shift; shift = sub; } else { dy = -shift; shift = 0; }
        const dx = k === "o" ? size * 0.22 : pad;
        pad = k === "o" ? size * 0.22 : 0;
        return (
          <tspan key={i} dx={dx} dy={dy} fontStyle={k === "i" ? "italic" : "normal"} fontSize={k === "s" ? size * 0.7 : size}>{s}</tspan>
        );
      })}
    </text>
  );
}

function Panel({p}: {p: any}) {
  const x = d3.scaleLinear().domain(p.xd).range([p.left, p.right]);
  const y = d3.scaleLinear().domain(p.yd).range([p.bottom, p.top]);
  const line = d3.line<[number, number]>();
  const tick = 7;
  const midX = (p.left + p.right) / 2;
  const midY = (p.top + p.bottom) / 2;
  return (
    <g>
      <defs>
        <clipPath id={`clip-${p.id}`}>
          <rect x={p.left} y={p.top} width={p.right - p.left} height={p.bottom - p.top} />
        </clipPath>
      </defs>
      <g clipPath={`url(#clip-${p.id})`} fill="none">
        {p.data.map((pts: Pt[], si: number) => {
          const {solid, jumps} = splitRuns(pts, x, y);
          return (
            <g key={si} stroke={COLORS[si]}>
              {solid.map((r, k) => <path key={k} d={line(r) || ""} strokeWidth={1.5} strokeLinejoin="round" />)}
              {jumps.map((r, k) => <path key={"j" + k} d={line(r) || ""} strokeWidth={1.2} strokeDasharray="1 2.5" />)}
            </g>
          );
        })}
      </g>
      <g stroke="#000" strokeWidth={1}>
        {p.xt.map((t: number) => (
          <g key={t}>
            <line x1={x(t)} x2={x(t)} y1={p.bottom} y2={p.bottom - tick} />
            <line x1={x(t)} x2={x(t)} y1={p.top} y2={p.top + tick} />
          </g>
        ))}
        {p.yt.map((v: number) => (
          <g key={v}>
            <line x1={p.left} x2={p.left + tick} y1={y(v)} y2={y(v)} />
            <line x1={p.right} x2={p.right - tick} y1={y(v)} y2={y(v)} />
          </g>
        ))}
      </g>
      <rect x={p.left} y={p.top} width={p.right - p.left} height={p.bottom - p.top} fill="none" stroke="#000" strokeWidth={1.5} />
      <g fontFamily={SANS} fontSize={FS} fill="#000">
        {p.xt.map((t: number) => (
          <text key={t} x={x(t)} y={p.bottom + 27} textAnchor="middle">{t}</text>
        ))}
        {p.yt.map((v: number) => (
          <text key={v} x={p.left - 13.5} y={y(v) + 6.8} textAnchor="end">{v}</text>
        ))}
        <text x={midX} y={p.bottom + 56} textAnchor="middle">time (Myr)</text>
        <text transform={`translate(20,${midY}) rotate(-90)`} textAnchor="middle">ang/pi</text>
        {SERIES.map((s, i) => {
          const ry = p.legY + i * 19.75;
          return (
            <g key={s}>
              <text x={p.legX} y={ry + 6.8} textAnchor="end">{s}</text>
              <line x1={p.legX + 13} x2={p.legX + 68} y1={ry} y2={ry} stroke={COLORS[i]} strokeWidth={1.5} />
            </g>
          );
        })}
      </g>
      <MathText x={p.mx} y={p.my} parts={p.math} size={p.msize} />
    </g>
  );
}

export default function App() {
  return (
    <svg width={600} height={1037} style={{position: "absolute", left: 0, top: 0, background: "#fff"}}>
      <rect width={600} height={1037} fill="#fff" />
      {panels.map((p) => <Panel key={p.id} p={p} />)}
    </svg>
  );
}
